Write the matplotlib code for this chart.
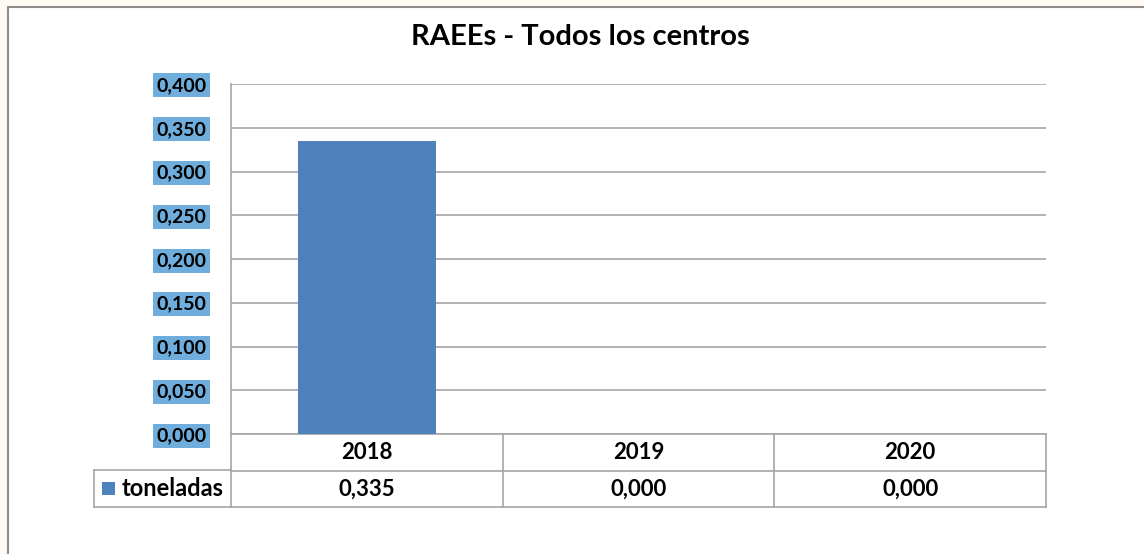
import matplotlib.pyplot as plt
from matplotlib.patches import Rectangle
from matplotlib.lines import Line2D

# data
years = ['2018', '2019', '2020']
toneladas = [0.335, 0.000, 0.000]
yticks = [0.0, 0.05, 0.10, 0.15, 0.20, 0.25, 0.30, 0.35, 0.40]
series_name = 'toneladas'
title = 'RAEEs - Todos los centros'

W, H = 1144, 554
bar_color = '#4F81BD'
grid_color = '#A6A6A6'
label_bg = '#6FAEDC'

plt.rcParams['font.family'] = ['Lato', 'DejaVu Sans']

fig = plt.figure(figsize=(W / 100, H / 100), dpi=100)
fig.patch.set_facecolor('#FEF9F3')

# white chart area with grey frame
frame = Rectangle((8 / W, -0.1), 1.2, 1 - 7 / H + 0.1, transform=fig.transFigure,
                  facecolor='white', edgecolor='#8C8C8C', lw=1.5, zorder=-5)
fig.patches.append(frame)

# plot area
x0, x1 = 231 / W, 1046 / W
y0, y1 = 1 - 434 / H, 1 - 84 / H
ax = fig.add_axes([x0, y0, x1 - x0, y1 - y0])
ax.set_facecolor('none')

xs = list(range(len(years)))
ax.bar(xs, toneladas, width=0.51, color=bar_color, zorder=3)
ax.set_xlim(-0.5, len(years) - 0.5)
ax.set_ylim(0, 0.4)
ax.set_yticks(yticks)
ax.set_yticklabels([('%.3f' % v).replace('.', ',') for v in yticks],
                   fontsize=14, fontweight='bold')
for lab in ax.get_yticklabels():
    lab.set_bbox(dict(facecolor=label_bg, edgecolor='none', pad=2.5))
ax.tick_params(axis='y', length=0, pad=17.5)
ax.set_xticks([])
ax.grid(axis='y', color=grid_color, lw=1.2, zorder=0)
for s in ['top', 'right', 'bottom']:
    ax.spines[s].set_visible(False)
ax.spines['left'].set_color(grid_color)
ax.spines['left'].set_linewidth(1.2)

# data table under the plot
row_h = 36.5 / (434 - 84)  # in axes fraction
tr = ax.get_xaxis_transform()
lines_kw = dict(color=grid_color, lw=1.2, clip_on=False, transform=tr)
# vertical separators
for b in [-0.5, 0.5, 1.5, 2.5]:
    ax.add_line(Line2D([b, b], [0, -2 * row_h], **lines_kw))
# horizontal lines
ax.add_line(Line2D([-0.5, 2.5], [-row_h, -row_h], **lines_kw))
ax.add_line(Line2D([-0.5, 2.5], [-2 * row_h, -2 * row_h], **lines_kw))
ax.add_line(Line2D([-0.5, 2.5], [0, 0], **lines_kw))

# legend cell (figure coords)
lx0 = 94 / W
fkw = dict(color=grid_color, lw=1.2, transform=fig.transFigure)
fig.lines.append(Line2D([lx0, x0], [1 - 470 / H, 1 - 470 / H], **fkw))
fig.lines.append(Line2D([lx0, x0], [1 - 507 / H, 1 - 507 / H], **fkw))
fig.lines.append(Line2D([lx0, lx0], [1 - 470 / H, 1 - 507 / H], **fkw))
fig.patches.append(Rectangle((102 / W, 1 - 495 / H), 13 / W, 13 / H,
                             transform=fig.transFigure, facecolor=bar_color, edgecolor='none'))
fig.text(122 / W, 1 - 489 / H, series_name, fontsize=17, fontweight='bold', va='center', ha='left')

for i, (yr, v) in enumerate(zip(years, toneladas)):
    ax.text(i, -0.5 * row_h, yr, transform=tr, ha='center', va='center',
            fontsize=16, fontweight='bold')
    ax.text(i, -1.5 * row_h, ('%.3f' % v).replace('.', ','), transform=tr,
            ha='center', va='center', fontsize=16, fontweight='bold')

fig.text(580 / W, 1 - 37 / H, title, ha='center', va='center',
         fontsize=21, fontweight='bold')

fig.savefig('out.png', dpi=100, facecolor=fig.get_facecolor())
